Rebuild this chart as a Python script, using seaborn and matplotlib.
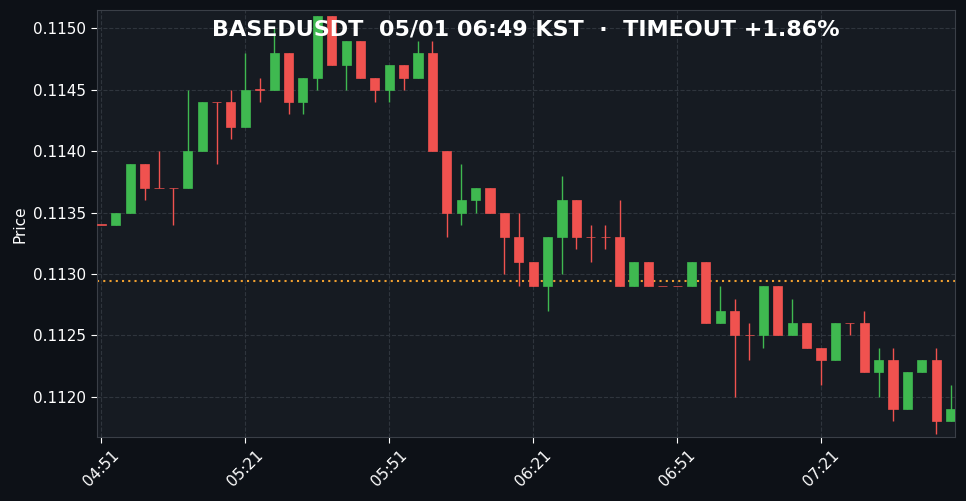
import numpy as np
import pandas as pd
import seaborn as sns
import matplotlib.pyplot as plt

# 3-minute candles from 04:51 KST
opens = [0.1134, 0.1134, 0.1135, 0.1139, 0.1137, 0.1137, 0.1137, 0.1140, 0.1144, 0.1144,
         0.1142, 0.1145, 0.1145, 0.1148, 0.1144, 0.1146, 0.1151, 0.1147, 0.1149, 0.1146,
         0.1145, 0.1147, 0.1146, 0.1148, 0.1140, 0.1135, 0.1136, 0.1137, 0.1135, 0.1133,
         0.1131, 0.1129, 0.1133, 0.1136, 0.1133, 0.1133, 0.1133, 0.1129, 0.1131, 0.1129,
         0.1129, 0.1129, 0.1131, 0.1126, 0.1127, 0.1125, 0.1125, 0.1129, 0.1125, 0.1126,
         0.1124, 0.1123, 0.1126, 0.1126, 0.1122, 0.1123, 0.1119, 0.1122, 0.1123, 0.1118]
closes = [0.1134, 0.1135, 0.1139, 0.1137, 0.1137, 0.1137, 0.1140, 0.1144, 0.1144, 0.1142,
          0.1145, 0.1145, 0.1148, 0.1144, 0.1146, 0.1151, 0.1147, 0.1149, 0.1146, 0.1145,
          0.1147, 0.1146, 0.1148, 0.1140, 0.1135, 0.1136, 0.1137, 0.1135, 0.1133, 0.1131,
          0.1129, 0.1133, 0.1136, 0.1133, 0.1133, 0.1133, 0.1129, 0.1131, 0.1129, 0.1129,
          0.1129, 0.1131, 0.1126, 0.1127, 0.1125, 0.1125, 0.1129, 0.1125, 0.1126, 0.1124,
          0.1123, 0.1126, 0.1126, 0.1122, 0.1123, 0.1119, 0.1122, 0.1123, 0.1118, 0.1119]
highs = [0.1134, 0.1135, 0.1139, 0.1139, 0.1140, 0.1137, 0.1145, 0.1144, 0.1144, 0.1145,
         0.1148, 0.1146, 0.1150, 0.1148, 0.1146, 0.1151, 0.1151, 0.1149, 0.1149, 0.1146,
         0.1147, 0.1147, 0.1149, 0.1149, 0.1140, 0.1139, 0.1137, 0.1137, 0.1135, 0.1135,
         0.1131, 0.1133, 0.1138, 0.1136, 0.1134, 0.1134, 0.1136, 0.1131, 0.1131, 0.1129,
         0.1129, 0.1131, 0.1131, 0.1129, 0.1128, 0.1126, 0.1129, 0.1129, 0.1128, 0.1126,
         0.1124, 0.1126, 0.1126, 0.1127, 0.1124, 0.1124, 0.1122, 0.1123, 0.1124, 0.1121]
lows = [0.1134, 0.1134, 0.1135, 0.1136, 0.1137, 0.1134, 0.1137, 0.1140, 0.1139, 0.1141,
        0.1142, 0.1144, 0.1145, 0.1143, 0.1143, 0.1145, 0.1147, 0.1145, 0.1146, 0.1144,
        0.1144, 0.1145, 0.1146, 0.1140, 0.1133, 0.1134, 0.1135, 0.1135, 0.1130, 0.1129,
        0.1129, 0.1127, 0.1130, 0.1132, 0.1131, 0.1132, 0.1129, 0.1129, 0.1129, 0.1129,
        0.1129, 0.1129, 0.1126, 0.1126, 0.1120, 0.1123, 0.1124, 0.1125, 0.1125, 0.1124,
        0.1121, 0.1123, 0.1125, 0.1122, 0.1120, 0.1118, 0.1119, 0.1122, 0.1117, 0.1118]
ref_price = 0.11294
tick_labels = ["04:51", "05:21", "05:51", "06:21", "06:51", "07:21"]
title = "BASEDUSDT  05/01 06:49 KST  ·  TIMEOUT +1.86%"

df = pd.DataFrame({"open": opens, "high": highs, "low": lows, "close": closes})
df["t"] = np.arange(len(df)) * 3  # minutes since 04:51
df["up"] = df["close"] > df["open"]

fig_bg = "#0d1117"
ax_bg = "#161b22"
green = "#3fb950"
red = "#f0524f"

sns.set_style("dark")
fig, ax = plt.subplots(figsize=(9.66, 5.01), dpi=100)
fig.patch.set_facecolor(fig_bg)
ax.set_facecolor(ax_bg)

colors = np.where(df["up"], green, red)
ax.vlines(df["t"], df["low"], df["high"], colors=colors, linewidth=1, zorder=2)
bottom = np.minimum(df["open"], df["close"])
height = np.maximum(np.abs(df["close"] - df["open"]), 0.000004)
ax.bar(df["t"], height, bottom=bottom, width=1.9, color=colors,
       edgecolor=colors, linewidth=0.5, zorder=3)

ax.axhline(ref_price, color="#f0a030", linestyle=(0, (1, 2)), linewidth=1.5, zorder=1)

ax.set_xlim(-1, 178)
ax.set_ylim(0.11167, 0.11515)
ax.set_xticks(np.arange(len(tick_labels)) * 30)
ax.set_xticklabels(tick_labels, rotation=45, color="white", fontsize=11)
ax.set_yticks(np.arange(0.1120, 0.11501, 0.0005))
ax.set_yticklabels([f"{v:.4f}" for v in np.arange(0.1120, 0.11501, 0.0005)],
                   color="white", fontsize=11)
ax.tick_params(axis="both", colors="white", length=4, left=True, bottom=True)
ax.set_ylabel("Price", color="white", fontsize=11)
ax.grid(True, color="#2f353d", linestyle="--", linewidth=0.8)
for s in ax.spines.values():
    s.set_color("#3a3f47")
    s.set_visible(True)

ax.text(0.5, 0.955, title, transform=ax.transAxes, ha="center", va="center",
        color="white", fontsize=16, fontweight="bold", zorder=5)

plt.subplots_adjust(left=0.1, right=0.989, top=0.98, bottom=0.127)
plt.savefig("out.png", dpi=100, facecolor=fig_bg)
